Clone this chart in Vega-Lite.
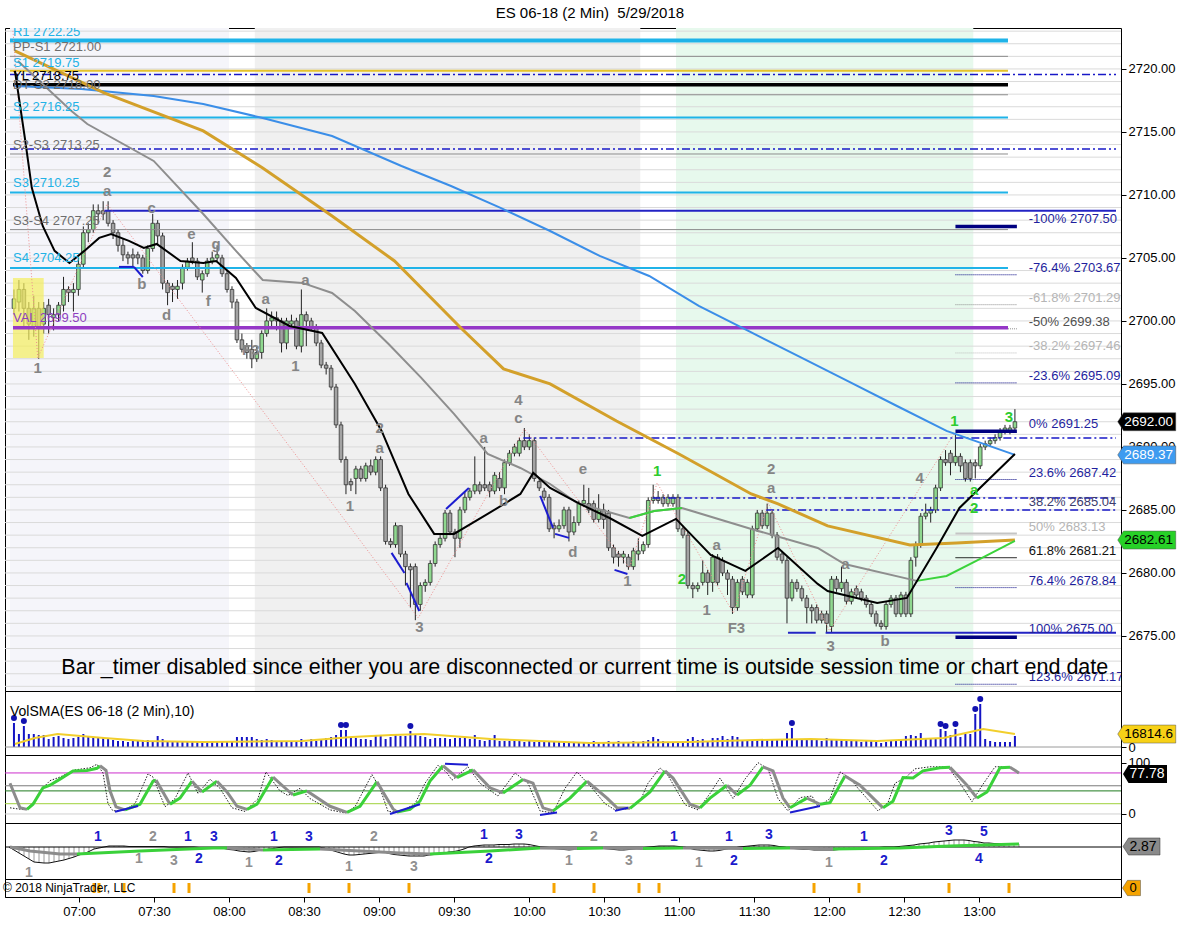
{
  "$schema": "https://vega.github.io/schema/vega-lite/v6.json",
  "background": "white",
  "padding": {"left": 2, "top": 5, "right": 16, "bottom": 5},
  "title": {"text": "ES 06-18 (2 Min) \u00a05/29/2018", "fontSize": 15, "fontWeight": "normal", "anchor": "middle", "frame": "bounds", "offset": 7, "color": "#000000"},
  "spacing": 0,
  "bounds": "flush",
  "datasets": {
    "bars": [
      {"m":392,"o":2701,"h":2702.5,"l":2700.5,"c":2701.75,"v":31200,"q":0},
      {"m":394,"o":2701.5,"h":2703.25,"l":2700.75,"c":2702.5,"v":16900,"q":-3},
      {"m":396,"o":2702.5,"h":2703,"l":2699.5,"c":2701,"v":27300,"q":-6},
      {"m":398,"o":2701,"h":2701.5,"l":2698.5,"c":2699.75,"v":16900,"q":-9},
      {"m":400,"o":2699.5,"h":2702,"l":2698.75,"c":2701,"v":16900,"q":-12},
      {"m":402,"o":2701,"h":2701.5,"l":2697,"c":2699.5,"v":15600,"q":-15},
      {"m":404,"o":2699.75,"h":2701.5,"l":2699,"c":2701,"v":15600,"q":-15.5},
      {"m":406,"o":2701.25,"h":2701.75,"l":2699,"c":2700.5,"v":10400,"q":-16},
      {"m":408,"o":2700.25,"h":2701,"l":2699.25,"c":2700.5,"v":13000,"q":-16},
      {"m":410,"o":2700.5,"h":2701.5,"l":2700,"c":2701.25,"v":14300,"q":-15},
      {"m":412,"o":2701.25,"h":2703.5,"l":2700.75,"c":2702.5,"v":11700,"q":-14},
      {"m":414,"o":2702.5,"h":2702.75,"l":2701.5,"c":2702.25,"v":10400,"q":-13},
      {"m":416,"o":2702.25,"h":2703,"l":2700.75,"c":2702.5,"v":11700,"q":-11.5},
      {"m":418,"o":2702.5,"h":2705,"l":2702,"c":2704.5,"v":13000,"q":-10},
      {"m":420,"o":2704.5,"h":2707.5,"l":2704.25,"c":2707,"v":16900,"q":-8},
      {"m":422,"o":2707,"h":2707.75,"l":2706.25,"c":2707.25,"v":14300,"q":-6.5},
      {"m":424,"o":2707.25,"h":2709.25,"l":2707,"c":2708.75,"v":13000,"q":-4.5},
      {"m":426,"o":2708.75,"h":2709.25,"l":2707.75,"c":2708.5,"v":13000,"q":-2},
      {"m":428,"o":2708.75,"h":2709.5,"l":2708,"c":2708.5,"v":11700,"q":-1},
      {"m":430,"o":2708.75,"h":2709.5,"l":2707.5,"c":2707.75,"v":11700,"q":0},
      {"m":432,"o":2707.75,"h":2708,"l":2706.5,"c":2707,"v":9100,"q":1},
      {"m":434,"o":2707,"h":2707.25,"l":2705.5,"c":2706,"v":7800,"q":1},
      {"m":436,"o":2706,"h":2706.5,"l":2704.75,"c":2705.25,"v":7800,"q":1},
      {"m":438,"o":2705.25,"h":2705.5,"l":2704.5,"c":2705,"v":6500,"q":1},
      {"m":440,"o":2705.25,"h":2705.75,"l":2704.25,"c":2705,"v":7800,"q":0.5},
      {"m":442,"o":2705.25,"h":2705.5,"l":2704.5,"c":2705,"v":7800,"q":0.5},
      {"m":444,"o":2705,"h":2705.25,"l":2703.75,"c":2704,"v":9100,"q":0.5},
      {"m":446,"o":2704,"h":2706,"l":2703.75,"c":2705.75,"v":9100,"q":0.5},
      {"m":448,"o":2705.75,"h":2708.5,"l":2705.5,"c":2707.75,"v":7800,"q":0.5},
      {"m":450,"o":2707.75,"h":2708,"l":2706,"c":2706.75,"v":14300,"q":0.5},
      {"m":452,"o":2706.75,"h":2707,"l":2702.5,"c":2703,"v":10400,"q":0.5},
      {"m":454,"o":2703,"h":2703.25,"l":2701.25,"c":2702.25,"v":7800,"q":0.5},
      {"m":456,"o":2702.75,"h":2703,"l":2701.5,"c":2702.5,"v":7800,"q":0},
      {"m":458,"o":2702.5,"h":2703.25,"l":2701.75,"c":2702.75,"v":7800,"q":0},
      {"m":460,"o":2703,"h":2704.5,"l":2702.5,"c":2704.25,"v":7800,"q":0},
      {"m":462,"o":2704.25,"h":2705,"l":2704,"c":2704.75,"v":7800,"q":0},
      {"m":464,"o":2705,"h":2706.25,"l":2704.5,"c":2704.75,"v":6500,"q":0},
      {"m":466,"o":2704.75,"h":2705,"l":2703.25,"c":2703.5,"v":6500,"q":0},
      {"m":468,"o":2703.25,"h":2704,"l":2702.25,"c":2703.75,"v":6500,"q":-0.5},
      {"m":470,"o":2703.75,"h":2705,"l":2703.5,"c":2704.75,"v":6500,"q":-0.5},
      {"m":472,"o":2704.75,"h":2705.5,"l":2704.5,"c":2705,"v":6500,"q":-0.5},
      {"m":474,"o":2705,"h":2706,"l":2704.75,"c":2705.25,"v":6500,"q":-0.5},
      {"m":476,"o":2705,"h":2705.25,"l":2703.5,"c":2703.75,"v":6500,"q":-1},
      {"m":478,"o":2703.75,"h":2704,"l":2702.25,"c":2702.5,"v":7800,"q":-1.5},
      {"m":480,"o":2702.5,"h":2702.75,"l":2701,"c":2701.5,"v":7800,"q":-2.5},
      {"m":482,"o":2701.5,"h":2701.75,"l":2698.25,"c":2698.5,"v":13000,"q":-3},
      {"m":484,"o":2698.5,"h":2699,"l":2697.5,"c":2697.75,"v":13000,"q":-4},
      {"m":486,"o":2698,"h":2698.25,"l":2697,"c":2697.5,"v":13000,"q":-4.5},
      {"m":488,"o":2697.75,"h":2698.5,"l":2696.25,"c":2697,"v":13000,"q":-5},
      {"m":490,"o":2697,"h":2698,"l":2696.75,"c":2697.5,"v":10400,"q":-4.5},
      {"m":492,"o":2697.5,"h":2699.25,"l":2697,"c":2699,"v":9100,"q":-3.5},
      {"m":494,"o":2699,"h":2701,"l":2698.75,"c":2700,"v":10400,"q":-3},
      {"m":496,"o":2700,"h":2700.75,"l":2699.5,"c":2700.25,"v":9100,"q":-2},
      {"m":498,"o":2700.25,"h":2700.75,"l":2699.25,"c":2700,"v":7800,"q":-1.5},
      {"m":500,"o":2700,"h":2700.25,"l":2697.5,"c":2698.25,"v":7800,"q":-0.5},
      {"m":502,"o":2698.25,"h":2700.25,"l":2697.75,"c":2700,"v":7800,"q":0},
      {"m":504,"o":2699.75,"h":2700.5,"l":2699.5,"c":2700,"v":7800,"q":0},
      {"m":506,"o":2700,"h":2700.25,"l":2697.75,"c":2698,"v":7800,"q":0},
      {"m":508,"o":2698,"h":2702.5,"l":2697.5,"c":2700.5,"v":10400,"q":0},
      {"m":510,"o":2700.5,"h":2700.75,"l":2698,"c":2700,"v":6500,"q":0},
      {"m":512,"o":2700,"h":2700.25,"l":2699.25,"c":2699.5,"v":10400,"q":0},
      {"m":514,"o":2699.5,"h":2699.75,"l":2698,"c":2698.25,"v":7800,"q":0},
      {"m":516,"o":2698.25,"h":2698.5,"l":2696.25,"c":2696.5,"v":10400,"q":0},
      {"m":518,"o":2696.5,"h":2696.75,"l":2695.75,"c":2696.25,"v":11700,"q":-1},
      {"m":520,"o":2696.25,"h":2696.5,"l":2694.5,"c":2694.75,"v":13000,"q":-2.5},
      {"m":522,"o":2694.75,"h":2695,"l":2691.5,"c":2691.75,"v":15600,"q":-4},
      {"m":524,"o":2691.75,"h":2692,"l":2688.75,"c":2689,"v":22100,"q":-5.5},
      {"m":526,"o":2689,"h":2689.25,"l":2686.25,"c":2687,"v":22100,"q":-7},
      {"m":528,"o":2687.25,"h":2687.5,"l":2686.5,"c":2687,"v":13000,"q":-8},
      {"m":530,"o":2687.5,"h":2688.5,"l":2686.25,"c":2688.25,"v":11700,"q":-8},
      {"m":532,"o":2688.25,"h":2688.5,"l":2687.25,"c":2687.5,"v":10400,"q":-7.5},
      {"m":534,"o":2687.5,"h":2688.75,"l":2687.25,"c":2688.5,"v":10400,"q":-7},
      {"m":536,"o":2688.5,"h":2689,"l":2687.75,"c":2688,"v":9100,"q":-6.5},
      {"m":538,"o":2688,"h":2689.25,"l":2687.75,"c":2689,"v":14300,"q":-6},
      {"m":540,"o":2689,"h":2689.25,"l":2686.5,"c":2686.75,"v":15600,"q":-5.5},
      {"m":542,"o":2686.75,"h":2687,"l":2682.25,"c":2682.5,"v":10400,"q":-5},
      {"m":544,"o":2682.5,"h":2682.75,"l":2682,"c":2682.25,"v":13000,"q":-6.5},
      {"m":546,"o":2682.25,"h":2684,"l":2682,"c":2683.75,"v":16900,"q":-7.5},
      {"m":548,"o":2683.75,"h":2683.75,"l":2681.25,"c":2681.5,"v":14300,"q":-8},
      {"m":550,"o":2681.5,"h":2681.75,"l":2679,"c":2680.5,"v":14300,"q":-8.5},
      {"m":552,"o":2680.5,"h":2680.75,"l":2677.25,"c":2680.25,"v":20800,"q":-9},
      {"m":554,"o":2680.5,"h":2680.75,"l":2676.25,"c":2677.5,"v":16900,"q":-9},
      {"m":556,"o":2677.5,"h":2679.25,"l":2677,"c":2679,"v":14300,"q":-9},
      {"m":558,"o":2679,"h":2679.5,"l":2678.5,"c":2679.25,"v":13000,"q":-9},
      {"m":560,"o":2679.25,"h":2681,"l":2679,"c":2680.75,"v":10400,"q":-8},
      {"m":562,"o":2680.75,"h":2682.5,"l":2680.5,"c":2682.25,"v":11700,"q":-7.5},
      {"m":564,"o":2682.25,"h":2683,"l":2682,"c":2682.75,"v":11700,"q":-6.5},
      {"m":566,"o":2682.75,"h":2685,"l":2682.5,"c":2684.75,"v":11700,"q":-6},
      {"m":568,"o":2684.75,"h":2685,"l":2683,"c":2683.25,"v":10400,"q":-5},
      {"m":570,"o":2683.25,"h":2683.5,"l":2681.25,"c":2682.75,"v":11700,"q":-4.5},
      {"m":572,"o":2682.75,"h":2685.25,"l":2682,"c":2685,"v":11700,"q":-3.5},
      {"m":574,"o":2685,"h":2686.5,"l":2684.75,"c":2686,"v":13000,"q":-2},
      {"m":576,"o":2686,"h":2686.75,"l":2685.75,"c":2686.5,"v":10400,"q":0},
      {"m":578,"o":2686.5,"h":2689.25,"l":2686.25,"c":2687,"v":15600,"q":1},
      {"m":580,"o":2687,"h":2687.25,"l":2686.25,"c":2686.5,"v":9100,"q":1.5},
      {"m":582,"o":2687,"h":2690,"l":2686.5,"c":2686.75,"v":7800,"q":2},
      {"m":584,"o":2687,"h":2687.25,"l":2686,"c":2686.5,"v":9100,"q":2},
      {"m":586,"o":2686.5,"h":2688,"l":2686.25,"c":2687.75,"v":15600,"q":2},
      {"m":588,"o":2687.5,"h":2688,"l":2686.5,"c":2686.75,"v":7800,"q":2.5},
      {"m":590,"o":2686.75,"h":2689,"l":2686.25,"c":2688.75,"v":7800,"q":2.5},
      {"m":592,"o":2688.75,"h":2689.75,"l":2688.5,"c":2689.5,"v":7800,"q":2.5},
      {"m":594,"o":2689.5,"h":2690.25,"l":2689.25,"c":2690,"v":7800,"q":3},
      {"m":596,"o":2689.5,"h":2690.75,"l":2689.25,"c":2690.5,"v":9100,"q":3},
      {"m":598,"o":2690.5,"h":2691.5,"l":2689.75,"c":2690,"v":6500,"q":3},
      {"m":600,"o":2690,"h":2691,"l":2689.75,"c":2690.5,"v":7800,"q":2.5},
      {"m":602,"o":2690.5,"h":2690.75,"l":2687.25,"c":2687.5,"v":6500,"q":1.5},
      {"m":604,"o":2687.25,"h":2687.5,"l":2686.5,"c":2686.75,"v":6500,"q":0.5},
      {"m":606,"o":2686.5,"h":2686.75,"l":2685.75,"c":2686,"v":7800,"q":0},
      {"m":608,"o":2686,"h":2686.25,"l":2683.25,"c":2683.5,"v":6500,"q":-0.5},
      {"m":610,"o":2683.75,"h":2684,"l":2682.75,"c":2683.5,"v":6500,"q":-1.5},
      {"m":612,"o":2683.5,"h":2684.25,"l":2683.25,"c":2683.75,"v":6500,"q":-2},
      {"m":614,"o":2683.75,"h":2685.25,"l":2683.5,"c":2685,"v":7800,"q":-2.5},
      {"m":616,"o":2685,"h":2685.25,"l":2682.5,"c":2683.25,"v":6500,"q":-3},
      {"m":618,"o":2683.25,"h":2684.5,"l":2683,"c":2684,"v":6500,"q":-2.5},
      {"m":620,"o":2684,"h":2685.75,"l":2683.75,"c":2685.5,"v":6500,"q":-2},
      {"m":622,"o":2685.5,"h":2687,"l":2685.25,"c":2685.75,"v":5200,"q":-1.5},
      {"m":624,"o":2685.5,"h":2686.75,"l":2684.75,"c":2685,"v":6500,"q":-1},
      {"m":626,"o":2685.5,"h":2685.75,"l":2684,"c":2684.25,"v":7800,"q":-1},
      {"m":628,"o":2684.25,"h":2686.25,"l":2684,"c":2685,"v":6500,"q":-1},
      {"m":630,"o":2685,"h":2685.5,"l":2683.5,"c":2684.25,"v":5200,"q":-1.5},
      {"m":632,"o":2684.75,"h":2685,"l":2681.75,"c":2682,"v":7800,"q":-2},
      {"m":634,"o":2682,"h":2682.25,"l":2680.75,"c":2681.25,"v":6500,"q":-2.5},
      {"m":636,"o":2681.5,"h":2681.75,"l":2680.5,"c":2681.25,"v":7800,"q":-3},
      {"m":638,"o":2681.25,"h":2681.75,"l":2680.75,"c":2681.5,"v":6500,"q":-3},
      {"m":640,"o":2681.25,"h":2681.5,"l":2680.25,"c":2680.5,"v":5200,"q":-2.5},
      {"m":642,"o":2680.5,"h":2682,"l":2680.25,"c":2681.75,"v":7800,"q":-2},
      {"m":644,"o":2681.5,"h":2682.75,"l":2681,"c":2681.75,"v":6500,"q":-1},
      {"m":646,"o":2681.75,"h":2682.5,"l":2681.5,"c":2682.25,"v":7800,"q":-0.5},
      {"m":648,"o":2682.25,"h":2686,"l":2682,"c":2685.75,"v":9100,"q":0},
      {"m":650,"o":2685.75,"h":2687,"l":2685.5,"c":2686,"v":13000,"q":0.5},
      {"m":652,"o":2686,"h":2686.5,"l":2685.5,"c":2685.75,"v":10400,"q":1},
      {"m":654,"o":2686,"h":2686.25,"l":2685.25,"c":2685.5,"v":7800,"q":1},
      {"m":656,"o":2685.5,"h":2686.25,"l":2685.25,"c":2686,"v":6500,"q":1},
      {"m":658,"o":2685.5,"h":2686.25,"l":2685.25,"c":2686,"v":6500,"q":1},
      {"m":660,"o":2686,"h":2686.25,"l":2683.25,"c":2683.5,"v":6500,"q":0.5},
      {"m":662,"o":2683.5,"h":2683.75,"l":2682.75,"c":2683,"v":5200,"q":0},
      {"m":664,"o":2683,"h":2683.25,"l":2678.75,"c":2679,"v":10400,"q":-1},
      {"m":666,"o":2679,"h":2679.25,"l":2678,"c":2678.75,"v":13000,"q":-2.5},
      {"m":668,"o":2678.75,"h":2679.25,"l":2678.5,"c":2679,"v":9100,"q":-3},
      {"m":670,"o":2679.25,"h":2681,"l":2679,"c":2680,"v":10400,"q":-3.5},
      {"m":672,"o":2680,"h":2680.25,"l":2678.25,"c":2679.25,"v":7800,"q":-4},
      {"m":674,"o":2679.25,"h":2681.5,"l":2678.5,"c":2681.25,"v":11700,"q":-4},
      {"m":676,"o":2681.25,"h":2681.5,"l":2679,"c":2679.25,"v":11700,"q":-3.5},
      {"m":678,"o":2681,"h":2681.25,"l":2679.75,"c":2680,"v":14300,"q":-2.5},
      {"m":680,"o":2680,"h":2680.25,"l":2678.25,"c":2679.5,"v":10400,"q":-1.5},
      {"m":682,"o":2679.5,"h":2679.75,"l":2676.75,"c":2677.25,"v":14300,"q":-1},
      {"m":684,"o":2677.25,"h":2679.5,"l":2677,"c":2679.25,"v":13000,"q":0},
      {"m":686,"o":2679.5,"h":2679.75,"l":2678.25,"c":2678.5,"v":9100,"q":0.5},
      {"m":688,"o":2678.25,"h":2679.5,"l":2678,"c":2679.25,"v":9100,"q":1},
      {"m":690,"o":2678.25,"h":2683.75,"l":2678,"c":2683.5,"v":7800,"q":1.5},
      {"m":692,"o":2683.5,"h":2685,"l":2683.25,"c":2684.75,"v":10400,"q":2},
      {"m":694,"o":2684.75,"h":2685,"l":2683.5,"c":2683.75,"v":9100,"q":2},
      {"m":696,"o":2683.75,"h":2685.5,"l":2683.5,"c":2684.75,"v":9100,"q":2},
      {"m":698,"o":2684.75,"h":2685,"l":2682.75,"c":2683,"v":9100,"q":1.5},
      {"m":700,"o":2683,"h":2683.25,"l":2681,"c":2681.25,"v":9100,"q":0.5},
      {"m":702,"o":2681.5,"h":2681.75,"l":2680.75,"c":2681,"v":10400,"q":0},
      {"m":704,"o":2681,"h":2681.25,"l":2676,"c":2678,"v":18200,"q":-1},
      {"m":706,"o":2678,"h":2679.5,"l":2677.75,"c":2679.25,"v":24700,"q":-1.5},
      {"m":708,"o":2679.25,"h":2679.5,"l":2678.5,"c":2678.75,"v":10400,"q":-2},
      {"m":710,"o":2678.75,"h":2679,"l":2677.75,"c":2678,"v":10400,"q":-2.5},
      {"m":712,"o":2678,"h":2678.25,"l":2676,"c":2677.25,"v":9100,"q":-2.5},
      {"m":714,"o":2677.25,"h":2677.5,"l":2676,"c":2677,"v":10400,"q":-3},
      {"m":716,"o":2677.25,"h":2677.5,"l":2676,"c":2676.25,"v":9100,"q":-3},
      {"m":718,"o":2676.75,"h":2677,"l":2676,"c":2676.25,"v":7800,"q":-3},
      {"m":720,"o":2676.75,"h":2677,"l":2675.25,"c":2676,"v":11700,"q":-3},
      {"m":722,"o":2675.75,"h":2679.75,"l":2675.25,"c":2679.5,"v":10400,"q":-3},
      {"m":724,"o":2679.5,"h":2679.75,"l":2678.5,"c":2678.75,"v":9100,"q":-2.5},
      {"m":726,"o":2678.75,"h":2680.5,"l":2678.5,"c":2679.25,"v":9100,"q":-2.5},
      {"m":728,"o":2679.25,"h":2679.5,"l":2677.5,"c":2677.75,"v":9100,"q":-2},
      {"m":730,"o":2677.75,"h":2678.75,"l":2677.5,"c":2678.5,"v":7800,"q":-1.5},
      {"m":732,"o":2678.75,"h":2679,"l":2678,"c":2678.25,"v":7800,"q":-1.5},
      {"m":734,"o":2678.5,"h":2678.75,"l":2677.75,"c":2678,"v":6500,"q":-1},
      {"m":736,"o":2678,"h":2678.25,"l":2677.25,"c":2677.5,"v":7800,"q":-1},
      {"m":738,"o":2677.5,"h":2677.75,"l":2676.5,"c":2676.75,"v":7800,"q":-0.5},
      {"m":740,"o":2676.75,"h":2677,"l":2675.75,"c":2676,"v":6500,"q":-0.5},
      {"m":742,"o":2676,"h":2676.25,"l":2675.5,"c":2675.75,"v":5200,"q":0},
      {"m":744,"o":2675.75,"h":2677.75,"l":2675.5,"c":2677.5,"v":6500,"q":0},
      {"m":746,"o":2677.5,"h":2678.25,"l":2677.25,"c":2678,"v":7800,"q":0},
      {"m":748,"o":2678,"h":2678.25,"l":2676.5,"c":2676.75,"v":7800,"q":0.5},
      {"m":750,"o":2676.75,"h":2678.5,"l":2676.5,"c":2678.25,"v":10400,"q":1},
      {"m":752,"o":2678.25,"h":2678.5,"l":2676.5,"c":2676.75,"v":14300,"q":1.5},
      {"m":754,"o":2676.75,"h":2681.25,"l":2676.5,"c":2681,"v":15600,"q":2},
      {"m":756,"o":2681.25,"h":2682.5,"l":2680.5,"c":2682.25,"v":14300,"q":3},
      {"m":758,"o":2682.25,"h":2684.75,"l":2682,"c":2684.5,"v":18200,"q":3.5},
      {"m":760,"o":2684.5,"h":2685.5,"l":2684.25,"c":2684.75,"v":10400,"q":4},
      {"m":762,"o":2684.75,"h":2685.25,"l":2684,"c":2685,"v":10400,"q":5},
      {"m":764,"o":2685,"h":2687,"l":2684.75,"c":2686.75,"v":11700,"q":5.5},
      {"m":766,"o":2686.75,"h":2689.25,"l":2686.5,"c":2689,"v":23400,"q":6},
      {"m":768,"o":2689,"h":2689.75,"l":2688.5,"c":2688.75,"v":20800,"q":6.5},
      {"m":770,"o":2689.5,"h":2689.75,"l":2687.75,"c":2688.75,"v":15600,"q":7},
      {"m":772,"o":2688.75,"h":2691,"l":2688.5,"c":2689.25,"v":23400,"q":7},
      {"m":774,"o":2689.25,"h":2689.5,"l":2688,"c":2688.5,"v":13000,"q":7},
      {"m":776,"o":2688.75,"h":2689,"l":2687.25,"c":2687.5,"v":16900,"q":6.5},
      {"m":778,"o":2688.75,"h":2689,"l":2687.25,"c":2687.5,"v":16900,"q":5.5},
      {"m":780,"o":2688.75,"h":2689,"l":2687.5,"c":2688.5,"v":42900,"q":5},
      {"m":782,"o":2688.5,"h":2690.25,"l":2688.25,"c":2690,"v":55900,"q":4},
      {"m":784,"o":2690,"h":2690.5,"l":2689.75,"c":2690.25,"v":10400,"q":4},
      {"m":786,"o":2690.25,"h":2690.75,"l":2690,"c":2690.5,"v":7800,"q":3.5},
      {"m":788,"o":2690.5,"h":2691,"l":2690.25,"c":2690.75,"v":6500,"q":3.5},
      {"m":790,"o":2690.75,"h":2691.5,"l":2690.5,"c":2691.25,"v":6500,"q":3},
      {"m":792,"o":2691.25,"h":2691.75,"l":2691,"c":2691.5,"v":6500,"q":3},
      {"m":794,"o":2691.25,"h":2691.75,"l":2691,"c":2691.5,"v":6500,"q":3},
      {"m":796,"o":2691.5,"h":2693,"l":2691.25,"c":2692,"v":14300,"q":3}
    ],
    "grid": [
      {"p":2671},{"p":2672},{"p":2673},{"p":2674},{"p":2675},{"p":2676},{"p":2677},{"p":2678},{"p":2679},{"p":2680},
      {"p":2681},{"p":2682},{"p":2683},{"p":2684},{"p":2685},{"p":2686},{"p":2687},{"p":2688},{"p":2689},{"p":2690},
      {"p":2691},{"p":2692},{"p":2693},{"p":2694},{"p":2695},{"p":2696},{"p":2697},{"p":2698},{"p":2699},{"p":2700},
      {"p":2701},{"p":2702},{"p":2703},{"p":2704},{"p":2705},{"p":2706},{"p":2707},{"p":2708},{"p":2709},{"p":2710},
      {"p":2711},{"p":2712},{"p":2713},{"p":2714},{"p":2715},{"p":2716},{"p":2717},{"p":2718},{"p":2719},{"p":2720},
      {"p":2721},{"p":2722},{"p":2723}
    ],
    "bands": [
      {"m1":390.4,"m2":478.8,"k":"a"},
      {"m1":489.2,"m2":644.8,"k":"b"},
      {"m1":659.2,"m2":779.2,"k":"c"}
    ],
    "box": [{"m1":391.6,"m2":404,"p1":2697.06,"p2":2703.41}],
    "levels": [
      {"p":2722.25,"m1":390.4,"m2":793.2,"k":"R"},
      {"p":2721,"m1":390.4,"m2":793.2,"k":"G"},
      {"p":2719.85,"m1":390.4,"m2":793.2,"k":"Y"},
      {"p":2719.55,"m1":390.4,"m2":836.8,"k":"D"},
      {"p":2718.75,"m1":391.6,"m2":793.2,"k":"K"},
      {"p":2717.95,"m1":390.4,"m2":793.2,"k":"G"},
      {"p":2716.15,"m1":390.4,"m2":793.2,"k":"S"},
      {"p":2713.65,"m1":390.4,"m2":836.8,"k":"D"},
      {"p":2713.25,"m1":390.4,"m2":793.2,"k":"G"},
      {"p":2710.2,"m1":390.4,"m2":793.2,"k":"S"},
      {"p":2708.75,"m1":428.4,"m2":836.8,"k":"B"},
      {"p":2707.25,"m1":390.4,"m2":793.2,"k":"G"},
      {"p":2707.5,"m1":772,"m2":796.8,"k":"N"},
      {"p":2704.2,"m1":390.4,"m2":793.2,"k":"S"},
      {"p":2703.665,"m1":772,"m2":796.8,"k":"ND"},
      {"p":2701.29,"m1":772,"m2":796.8,"k":"GD"},
      {"p":2699.45,"m1":391.6,"m2":793.2,"k":"P"},
      {"p":2699.375,"m1":793.2,"m2":796.8,"k":"GD"},
      {"p":2697.46,"m1":772,"m2":796.8,"k":"LD"},
      {"p":2695.085,"m1":772,"m2":796.8,"k":"ND"},
      {"p":2691.25,"m1":772,"m2":796.8,"k":"N"},
      {"p":2690.7,"m1":597.6,"m2":836.8,"k":"D"},
      {"p":2687.415,"m1":772,"m2":796.8,"k":"ND"},
      {"p":2685.95,"m1":649.6,"m2":836.8,"k":"D"},
      {"p":2685,"m1":695.6,"m2":836.8,"k":"D"},
      {"p":2683.125,"m1":772,"m2":796.8,"k":"L"},
      {"p":2681.21,"m1":772,"m2":796.8,"k":"T"},
      {"p":2678.835,"m1":772,"m2":796.8,"k":"ND"},
      {"p":2675.25,"m1":719.6,"m2":836.8,"k":"B"},
      {"p":2675.25,"m1":704.4,"m2":715.6,"k":"B"},
      {"p":2674.9,"m1":772,"m2":796.8,"k":"N"},
      {"p":2671.165,"m1":772,"m2":796.8,"k":"ND"}
    ],
    "plab": [
      {"m":391.6,"p":2722.25,"t":"R1 2722.25","k":"c"},
      {"m":391.6,"p":2721,"t":"PP-S1 2721.00","k":"g"},
      {"m":391.6,"p":2719.75,"t":"S1 2719.75","k":"c"},
      {"m":391.6,"p":2718.75,"t":"YL 2718.75","k":"k"},
      {"m":391.6,"p":2718,"t":"DT-S2 2718.00","k":"g"},
      {"m":391.6,"p":2716.25,"t":"S2 2716.25","k":"c"},
      {"m":391.6,"p":2713.25,"t":"S2-S3 2713.25","k":"g"},
      {"m":391.6,"p":2710.25,"t":"S3 2710.25","k":"c"},
      {"m":391.6,"p":2707.25,"t":"S3-S4 2707.25","k":"g"},
      {"m":391.6,"p":2704.25,"t":"S4 2704.25","k":"c"},
      {"m":391.6,"p":2699.5,"t":"VAL 2699.50","k":"p"}
    ],
    "fib": [
      {"m":801.6,"p":2707.5,"t":"-100%  2707.50","k":"n"},
      {"m":801.6,"p":2703.665,"t":"-76.4%  2703.67","k":"n"},
      {"m":801.6,"p":2701.29,"t":"-61.8%  2701.29","k":"l"},
      {"m":801.6,"p":2699.375,"t":"-50%  2699.38","k":"g"},
      {"m":801.6,"p":2697.46,"t":"-38.2%  2697.46","k":"l"},
      {"m":801.6,"p":2695.085,"t":"-23.6%  2695.09","k":"n"},
      {"m":801.6,"p":2691.25,"t":"0%  2691.25","k":"n"},
      {"m":801.6,"p":2687.415,"t":"23.6%  2687.42","k":"n"},
      {"m":801.6,"p":2685.04,"t":"38.2%  2685.04","k":"s"},
      {"m":801.6,"p":2683.125,"t":"50%  2683.13","k":"l"},
      {"m":801.6,"p":2681.21,"t":"61.8%  2681.21","k":"k"},
      {"m":801.6,"p":2678.835,"t":"76.4%  2678.84","k":"n"},
      {"m":801.6,"p":2675,"t":"100%  2675.00","k":"n"},
      {"m":801.6,"p":2671.165,"t":"123.6%  2671.17","k":"n"}
    ],
    "ma": [
      {"m":392.4,"p":2718.65,"s":"blu"},{"m":419.2,"p":2718.41,"s":"blu"},{"m":448.4,"p":2717.86,"s":"blu"},{"m":468.4,"p":2717.22,"s":"blu"},
      {"m":492.4,"p":2716.11,"s":"blu"},{"m":520.4,"p":2714.68,"s":"blu"},{"m":548.4,"p":2712.3,"s":"blu"},{"m":568.4,"p":2710.71,"s":"blu"},
      {"m":588.4,"p":2708.97,"s":"blu"},{"m":608.4,"p":2707.14,"s":"blu"},{"m":628.4,"p":2705.16,"s":"blu"},{"m":648.4,"p":2703.57,"s":"blu"},
      {"m":668.4,"p":2701.19,"s":"blu"},{"m":688.4,"p":2699.21,"s":"blu"},{"m":708.4,"p":2697.22,"s":"blu"},{"m":728.4,"p":2695.24,"s":"blu"},
      {"m":748.4,"p":2693.25,"s":"blu"},{"m":768.4,"p":2691.27,"s":"blu"},{"m":796,"p":2689.37,"s":"blu"},
      {"m":392.4,"p":2721.43,"s":"gld"},{"m":428.4,"p":2718.1,"s":"gld"},{"m":468.4,"p":2715.08,"s":"gld"},{"m":492.4,"p":2712.14,"s":"gld"},
      {"m":520.4,"p":2708.33,"s":"gld"},{"m":545.6,"p":2704.76,"s":"gld"},{"m":572.4,"p":2699.44,"s":"gld"},{"m":589.6,"p":2696.19,"s":"gld"},
      {"m":608.4,"p":2695,"s":"gld"},{"m":635.2,"p":2692.06,"s":"gld"},{"m":660.4,"p":2689.44,"s":"gld"},{"m":689.6,"p":2686.27,"s":"gld"},
      {"m":700.4,"p":2685.48,"s":"gld"},{"m":720.4,"p":2683.73,"s":"gld"},{"m":753.6,"p":2682.22,"s":"gld"},{"m":772.4,"p":2682.38,"s":"gld"},
      {"m":796,"p":2682.61,"s":"gld"},
      {"m":393.6,"p":2720.63,"s":"gry"},{"m":415.2,"p":2716.67,"s":"gry"},{"m":421.6,"p":2715.63,"s":"gry"},{"m":448.4,"p":2712.7,"s":"gry"},
      {"m":468.4,"p":2708.49,"s":"gry"},{"m":481.6,"p":2705.56,"s":"gry"},{"m":492.4,"p":2703.25,"s":"gry"},{"m":508.4,"p":2703.02,"s":"gry"},
      {"m":520.4,"p":2702.22,"s":"gry"},{"m":529.6,"p":2700.79,"s":"gry"},{"m":543.2,"p":2698.17,"s":"gry"},{"m":556.4,"p":2695.48,"s":"gry"},
      {"m":569.6,"p":2692.62,"s":"gry"},{"m":583.2,"p":2689.44,"s":"gry"},{"m":596.4,"p":2688.33,"s":"gry"},{"m":608.4,"p":2687.06,"s":"gry"},
      {"m":619.2,"p":2685.56,"s":"gry"},{"m":640.4,"p":2684.36,"s":"gry"},{"m":650.4,"p":2684.92,"s":"gry"},{"m":661.6,"p":2685.16,"s":"gry"},
      {"m":689.6,"p":2683.49,"s":"gry"},{"m":716.4,"p":2681.98,"s":"gry"},{"m":727.2,"p":2680.71,"s":"gry"},{"m":756.4,"p":2679.37,"s":"gry"},
      {"m":756.4,"p":2679.37,"s":"grn"},{"m":768.4,"p":2679.76,"s":"grn"},{"m":780.4,"p":2680.95,"s":"grn"},{"m":796,"p":2682.54,"s":"grn"},
      {"m":640.4,"p":2684.36,"s":"gr2"},{"m":650.4,"p":2684.92,"s":"gr2"},{"m":661.6,"p":2685.16,"s":"gr2"},
      {"m":392.4,"p":2719.84,"s":"blk"},{"m":396.4,"p":2714.52,"s":"blk"},{"m":399.2,"p":2710.56,"s":"blk"},{"m":403.6,"p":2707.54,"s":"blk"},
      {"m":408.4,"p":2705.56,"s":"blk"},{"m":414.4,"p":2704.6,"s":"blk"},{"m":420.4,"p":2705.56,"s":"blk"},{"m":426.4,"p":2706.59,"s":"blk"},
      {"m":431.2,"p":2706.9,"s":"blk"},{"m":438.4,"p":2706.35,"s":"blk"},{"m":444.4,"p":2705.79,"s":"blk"},{"m":449.6,"p":2706.11,"s":"blk"},
      {"m":459.2,"p":2704.76,"s":"blk"},{"m":468.4,"p":2704.6,"s":"blk"},{"m":473.6,"p":2704.76,"s":"blk"},{"m":481.6,"p":2703.41,"s":"blk"},
      {"m":489.6,"p":2701.03,"s":"blk"},{"m":503.2,"p":2699.6,"s":"blk"},{"m":516.4,"p":2699.05,"s":"blk"},{"m":529.6,"p":2695,"s":"blk"},
      {"m":540.4,"p":2691.27,"s":"blk"},{"m":551.2,"p":2686.27,"s":"blk"},{"m":561.6,"p":2683.1,"s":"blk"},{"m":569.6,"p":2683.1,"s":"blk"},
      {"m":583.2,"p":2684.68,"s":"blk"},{"m":596.4,"p":2686.27,"s":"blk"},{"m":601.6,"p":2687.94,"s":"blk"},{"m":608.4,"p":2686.75,"s":"blk"},
      {"m":620.4,"p":2685.48,"s":"blk"},{"m":632.4,"p":2684.36,"s":"blk"},{"m":645.6,"p":2682.94,"s":"blk"},{"m":659.2,"p":2684.29,"s":"blk"},
      {"m":673.2,"p":2681.43,"s":"blk"},{"m":687.2,"p":2680.16,"s":"blk"},{"m":700.4,"p":2681.98,"s":"blk"},{"m":716.4,"p":2679.13,"s":"blk"},
      {"m":720.4,"p":2678.57,"s":"blk"},{"m":740.4,"p":2677.62,"s":"blk"},{"m":752.4,"p":2678.02,"s":"blk"},{"m":764.4,"p":2681.98,"s":"blk"},
      {"m":773.6,"p":2685.16,"s":"blk"},{"m":796,"p":2689.44,"s":"blk"}
    ],
    "zig": [
      {"m":391.6,"p":2723.02},{"m":401.6,"p":2697.06},{"m":429.6,"p":2709.29},{"m":555.2,"p":2676.43},
      {"m":598,"p":2691.43},{"m":640.4,"p":2680.4},{"m":651.6,"p":2687.14},{"m":682.4,"p":2676.8},
      {"m":696.4,"p":2685.56},{"m":721.2,"p":2675.4},{"m":771.6,"p":2691.1}
    ],
    "segs": [
      {"m1":434.4,"p1":2704.29,"m2":440.4,"p2":2704.29},
      {"m1":440.4,"p1":2704.29,"m2":444,"p2":2703.49},
      {"m1":544.4,"p1":2681.59,"m2":549.6,"p2":2680},
      {"m1":550.4,"p1":2679.21,"m2":555.6,"p2":2676.98},
      {"m1":566.4,"p1":2685.08,"m2":575.6,"p2":2686.75},
      {"m1":604.4,"p1":2686.11,"m2":609.6,"p2":2683.57},
      {"m1":610.4,"p1":2683.1,"m2":616,"p2":2682.78},
      {"m1":634.4,"p1":2680.24,"m2":639.6,"p2":2679.92}
    ],
    "lab": [
      {"m":401.6,"p":2696.27,"t":"1","g":"gy"},{"m":429.6,"p":2711.82,"t":"2","g":"gy"},{"m":429.6,"p":2710.32,"t":"a","g":"gy"},
      {"m":443.6,"p":2702.94,"t":"b","g":"gy"},{"m":447.6,"p":2708.97,"t":"c","g":"gy"},{"m":453.6,"p":2700.48,"t":"d","g":"gy"},
      {"m":463.6,"p":2706.9,"t":"e","g":"gy"},{"m":470.4,"p":2701.59,"t":"f","g":"gy"},{"m":473.6,"p":2706.11,"t":"g","g":"gy"},
      {"m":487.6,"p":2697.7,"t":"F3","g":"gy"},{"m":493.6,"p":2701.75,"t":"a","g":"gy"},{"m":505.6,"p":2696.43,"t":"1","g":"gy"},
      {"m":509.6,"p":2703.25,"t":"a","g":"gy"},{"m":539.6,"p":2691.5,"t":"2","g":"gy"},{"m":539.6,"p":2689.92,"t":"a","g":"gy"},
      {"m":527.6,"p":2685.32,"t":"1","g":"gy"},{"m":555.6,"p":2675.71,"t":"3","g":"gy"},{"m":581.6,"p":2690.71,"t":"a","g":"gy"},
      {"m":589.6,"p":2685.71,"t":"b","g":"gy"},{"m":595.6,"p":2693.73,"t":"4","g":"gy"},{"m":595.6,"p":2692.3,"t":"c","g":"gy"},
      {"m":621.6,"p":2688.25,"t":"e","g":"gy"},{"m":617.6,"p":2681.67,"t":"d","g":"gy"},{"m":639.6,"p":2679.37,"t":"1","g":"gy"},
      {"m":675.6,"p":2682.22,"t":"a","g":"gy"},{"m":671.6,"p":2677.06,"t":"1","g":"gy"},{"m":683.6,"p":2675.63,"t":"F3","g":"gy"},
      {"m":697.6,"p":2688.25,"t":"2","g":"gy"},{"m":697.6,"p":2686.75,"t":"a","g":"gy"},{"m":727.6,"p":2680.71,"t":"a","g":"gy"},
      {"m":721.6,"p":2674.2,"t":"3","g":"gy"},{"m":743.6,"p":2674.6,"t":"b","g":"gy"},{"m":757.6,"p":2687.54,"t":"4","g":"gy"},
      {"m":651.6,"p":2688.1,"t":"1","g":"gn"},{"m":661.6,"p":2679.52,"t":"2","g":"gn"},{"m":771.6,"p":2692.06,"t":"1","g":"gn"},
      {"m":793.6,"p":2692.38,"t":"3","g":"gn"},{"m":779.6,"p":2686.59,"t":"a","g":"gn"},{"m":779.6,"p":2685.16,"t":"2","g":"gn"}
    ],
    "note": [{"m":622.4,"p":2672.46,"t":"Bar _timer disabled since either you are disconnected or current time is outside session time or chart end date"}],
    "tags": [
      {"p":2692,"t":"2692.00","k":"a"},
      {"p":2689.37,"t":"2689.37","k":"b"},
      {"p":2682.61,"t":"2682.61","k":"c"}
    ],
    "vsma": [
      {"m":392.4,"v":3900},{"m":400.4,"v":11700},{"m":409.6,"v":16900},{"m":428.4,"v":11700},{"m":444.4,"v":7800},
      {"m":468.4,"v":6500},{"m":508.4,"v":7800},{"m":528.4,"v":13000},{"m":544.4,"v":15600},{"m":557.6,"v":16900},
      {"m":584.4,"v":10400},{"m":624.4,"v":5200},{"m":664.4,"v":6500},{"m":691.2,"v":9100},{"m":713.6,"v":10400},
      {"m":740.4,"v":7800},{"m":767.2,"v":11700},{"m":783.2,"v":23400},{"m":796,"v":16814.6}
    ],
    "vlab": [{"m":390.4,"v":45500,"t":"VolSMA(ES 06-18 (2 Min),10)"}],
    "vtag": [{"v":16814.6,"t":"16814.6"}],
    "stlev": [
      {"lv":80,"k":"mg"},{"lv":55,"k":"gy"},{"lv":45,"k":"dg"},{"lv":20,"k":"lg"},{"lv":0,"k":"lt"}
    ],
    "stoch": [
      {"m":392.4,"d":60,"g":1,"t":"d"},{"m":396.4,"d":12,"g":1,"t":"d"},{"m":399.2,"d":9,"g":1,"t":"d"},
      {"m":399.2,"d":9,"g":2,"t":"u"},{"m":401.6,"d":19,"g":2,"t":"u"},{"m":405.6,"d":51,"g":2,"t":"u"},{"m":408.4,"d":56,"g":2,"t":"u"},{"m":412.4,"d":68,"g":2,"t":"u"},{"m":417.6,"d":84,"g":2,"t":"u"},{"m":423.2,"d":85,"g":2,"t":"u"},{"m":427.2,"d":89,"g":2,"t":"u"},{"m":428.4,"d":94,"g":2,"t":"u"},
      {"m":428.4,"d":94,"g":3,"t":"d"},{"m":430.8,"d":85,"g":3,"t":"d"},{"m":432.4,"d":45,"g":3,"t":"d"},{"m":434.8,"d":14,"g":3,"t":"d"},{"m":438.4,"d":8,"g":3,"t":"d"},
      {"m":438.4,"d":8,"g":4,"t":"u"},{"m":444.4,"d":19,"g":4,"t":"u"},{"m":449.6,"d":64,"g":4,"t":"u"},{"m":450.8,"d":66,"g":4,"t":"u"},
      {"m":450.8,"d":66,"g":5,"t":"d"},{"m":456.4,"d":19,"g":5,"t":"d"},
      {"m":456.4,"d":19,"g":6,"t":"u"},{"m":460.4,"d":31,"g":6,"t":"u"},{"m":465.2,"d":64,"g":6,"t":"u"},
      {"m":465.2,"d":64,"g":7,"t":"d"},{"m":469.2,"d":43,"g":7,"t":"d"},
      {"m":469.2,"d":43,"g":8,"t":"u"},{"m":475.2,"d":64,"g":8,"t":"u"},
      {"m":475.2,"d":64,"g":9,"t":"d"},{"m":479.2,"d":43,"g":9,"t":"d"},{"m":483.2,"d":15,"g":9,"t":"d"},{"m":487.2,"d":9,"g":9,"t":"d"},
      {"m":487.2,"d":9,"g":10,"t":"u"},{"m":491.2,"d":19,"g":10,"t":"u"},{"m":497.6,"d":72,"g":10,"t":"u"},
      {"m":497.6,"d":72,"g":11,"t":"d"},{"m":501.2,"d":56,"g":11,"t":"d"},{"m":505.6,"d":37,"g":11,"t":"d"},
      {"m":505.6,"d":37,"g":12,"t":"u"},{"m":511.2,"d":45,"g":12,"t":"u"},
      {"m":511.2,"d":45,"g":13,"t":"d"},{"m":520.4,"d":15,"g":13,"t":"d"},{"m":527.2,"d":3,"g":13,"t":"d"},
      {"m":527.2,"d":3,"g":14,"t":"u"},{"m":532.4,"d":15,"g":14,"t":"u"},{"m":539.2,"d":63,"g":14,"t":"u"},
      {"m":539.2,"d":63,"g":15,"t":"d"},{"m":541.6,"d":43,"g":15,"t":"d"},{"m":545.6,"d":10,"g":15,"t":"d"},{"m":547.2,"d":4,"g":15,"t":"d"},
      {"m":547.2,"d":4,"g":16,"t":"u"},{"m":552.4,"d":9,"g":16,"t":"u"},{"m":556.4,"d":25,"g":16,"t":"u"},{"m":560.4,"d":64,"g":16,"t":"u"},{"m":565.6,"d":94,"g":16,"t":"u"},
      {"m":565.6,"d":94,"g":17,"t":"d"},{"m":571.2,"d":71,"g":17,"t":"d"},
      {"m":571.2,"d":71,"g":18,"t":"u"},{"m":577.6,"d":86,"g":18,"t":"u"},
      {"m":577.6,"d":86,"g":19,"t":"d"},{"m":584.4,"d":51,"g":19,"t":"d"},{"m":589.6,"d":41,"g":19,"t":"d"},
      {"m":589.6,"d":41,"g":20,"t":"u"},{"m":597.6,"d":67,"g":20,"t":"u"},
      {"m":597.6,"d":67,"g":21,"t":"d"},{"m":601.6,"d":60,"g":21,"t":"d"},{"m":605.6,"d":12,"g":21,"t":"d"},{"m":609.6,"d":6,"g":21,"t":"d"},
      {"m":609.6,"d":6,"g":22,"t":"u"},{"m":616.4,"d":31,"g":22,"t":"u"},{"m":623.2,"d":64,"g":22,"t":"u"},
      {"m":623.2,"d":64,"g":23,"t":"d"},{"m":631.2,"d":31,"g":23,"t":"d"},{"m":635.2,"d":12,"g":23,"t":"d"},{"m":640.4,"d":11,"g":23,"t":"d"},
      {"m":640.4,"d":11,"g":24,"t":"u"},{"m":648.4,"d":43,"g":24,"t":"u"},{"m":654.4,"d":84,"g":24,"t":"u"},
      {"m":654.4,"d":84,"g":25,"t":"d"},{"m":657.6,"d":70,"g":25,"t":"d"},{"m":664.4,"d":19,"g":25,"t":"d"},{"m":668.4,"d":12,"g":25,"t":"d"},
      {"m":668.4,"d":12,"g":26,"t":"u"},{"m":672.4,"d":31,"g":26,"t":"u"},{"m":679.2,"d":56,"g":26,"t":"u"},
      {"m":679.2,"d":56,"g":27,"t":"d"},{"m":683.2,"d":37,"g":27,"t":"d"},
      {"m":683.2,"d":37,"g":28,"t":"u"},{"m":688.4,"d":56,"g":28,"t":"u"},{"m":693.6,"d":92,"g":28,"t":"u"},
      {"m":693.6,"d":92,"g":29,"t":"d"},{"m":697.6,"d":84,"g":29,"t":"d"},{"m":701.6,"d":31,"g":29,"t":"d"},{"m":704.4,"d":12,"g":29,"t":"d"},
      {"m":704.4,"d":12,"g":30,"t":"u"},{"m":711.2,"d":31,"g":30,"t":"u"},
      {"m":711.2,"d":31,"g":31,"t":"d"},{"m":716.4,"d":19,"g":31,"t":"d"},
      {"m":716.4,"d":19,"g":32,"t":"u"},{"m":720.4,"d":22,"g":32,"t":"u"},{"m":726.4,"d":74,"g":32,"t":"u"},
      {"m":726.4,"d":74,"g":33,"t":"d"},{"m":732.4,"d":56,"g":33,"t":"d"},{"m":741.6,"d":12,"g":33,"t":"d"},
      {"m":741.6,"d":12,"g":34,"t":"u"},{"m":745.6,"d":25,"g":34,"t":"u"},{"m":749.6,"d":71,"g":34,"t":"u"},{"m":753.6,"d":70,"g":34,"t":"u"},{"m":757.6,"d":84,"g":34,"t":"u"},{"m":764.4,"d":90,"g":34,"t":"u"},{"m":768.4,"d":91,"g":34,"t":"u"},
      {"m":768.4,"d":91,"g":35,"t":"d"},{"m":775.2,"d":56,"g":35,"t":"d"},{"m":779.2,"d":31,"g":35,"t":"d"},
      {"m":779.2,"d":31,"g":36,"t":"u"},{"m":783.2,"d":43,"g":36,"t":"u"},{"m":788.4,"d":90,"g":36,"t":"u"},{"m":792.4,"d":91,"g":36,"t":"u"},
      {"m":792.4,"d":91,"g":37,"t":"d"},{"m":796,"d":80,"g":37,"t":"d"}
    ],
    "stk": [
      {"m":392.4,"k":12},{"m":398.4,"k":8},{"m":402.4,"k":25},{"m":404.4,"k":45},{"m":408.4,"k":65},{"m":412.4,"k":72},{"m":418.4,"k":86},{"m":424.4,"k":90},
      {"m":427.2,"k":97},{"m":429.6,"k":80},{"m":431.6,"k":20},{"m":433.6,"k":6},{"m":438.4,"k":8},{"m":442.4,"k":20},{"m":447.6,"k":78},{"m":449.6,"k":72},
      {"m":454.4,"k":14},{"m":458.4,"k":30},{"m":463.6,"k":80},{"m":467.6,"k":40},{"m":472.4,"k":68},{"m":476.4,"k":50},{"m":481.2,"k":12},{"m":486.4,"k":5},
      {"m":491.6,"k":30},{"m":494.8,"k":82},{"m":500.4,"k":45},{"m":503.6,"k":36},{"m":508.4,"k":50},{"m":512.4,"k":30},{"m":520.4,"k":8},{"m":526.4,"k":2},
      {"m":530.4,"k":14},{"m":537.2,"k":77},{"m":540.4,"k":50},{"m":543.6,"k":5},{"m":548.4,"k":3},{"m":554.4,"k":20},{"m":558.4,"k":60},{"m":563.6,"k":95},
      {"m":567.2,"k":80},{"m":569.2,"k":66},{"m":575.6,"k":92},{"m":580.4,"k":60},{"m":587.6,"k":35},{"m":594.4,"k":80},{"m":599.6,"k":60},{"m":604.4,"k":6},
      {"m":609.6,"k":2},{"m":614.4,"k":50},{"m":619.2,"k":82},{"m":624.4,"k":55},{"m":630.4,"k":20},{"m":634.4,"k":8},{"m":639.6,"k":10},{"m":644.4,"k":25},
      {"m":647.6,"k":60},{"m":652.4,"k":90},{"m":655.6,"k":75},{"m":662.4,"k":18},{"m":667.6,"k":8},{"m":672.4,"k":40},{"m":676.4,"k":70},{"m":681.6,"k":30},
      {"m":686.4,"k":68},{"m":691.6,"k":100},{"m":695.6,"k":88},{"m":699.6,"k":30},{"m":703.6,"k":6},{"m":708.4,"k":32},{"m":713.2,"k":35},{"m":715.6,"k":14},
      {"m":720.4,"k":30},{"m":724.4,"k":82},{"m":728.4,"k":70},{"m":731.6,"k":50},{"m":739.6,"k":6},{"m":743.6,"k":22},{"m":746.4,"k":60},{"m":750.4,"k":70},
      {"m":754.4,"k":88},{"m":760.4,"k":92},{"m":767.6,"k":92},{"m":772.4,"k":60},{"m":777.2,"k":24},{"m":781.2,"k":55},{"m":786.4,"k":92},{"m":792.4,"k":92},
      {"m":796,"k":78}
    ],
    "stseg": [
      {"m1":434.4,"a":4.5,"m2":443.6,"b":15.6},
      {"m1":544.4,"a":0,"m2":556.4,"b":19},
      {"m1":566.4,"a":98,"m2":575.6,"b":96},
      {"m1":604.4,"a":-2,"m2":611.2,"b":3},
      {"m1":634.4,"a":6,"m2":639.6,"b":12},
      {"m1":704.4,"a":3,"m2":716.4,"b":15.6}
    ],
    "sttag": [{"lv":77.78,"t":"77.78"}],
    "sig": [
      {"m":392.4,"s":0,"g":1,"t":"d"},{"m":400.4,"s":-4,"g":1,"t":"d"},{"m":412.4,"s":-7,"g":1,"t":"d"},{"m":419.2,"s":-7,"g":1,"t":"d"},
      {"m":419.2,"s":-7,"g":2,"t":"u"},{"m":444.4,"s":-4,"g":2,"t":"u"},{"m":473.6,"s":-1,"g":2,"t":"u"},{"m":479.2,"s":-1,"g":2,"t":"u"},
      {"m":479.2,"s":-1,"g":3,"t":"d"},{"m":493.6,"s":-3,"g":3,"t":"d"},
      {"m":493.6,"s":-3,"g":4,"t":"u"},{"m":516.4,"s":-2,"g":4,"t":"u"},
      {"m":516.4,"s":-2,"g":5,"t":"d"},{"m":532.4,"s":-4,"g":5,"t":"d"},{"m":548.4,"s":-6,"g":5,"t":"d"},{"m":560.4,"s":-7,"g":5,"t":"d"},
      {"m":560.4,"s":-7,"g":6,"t":"u"},{"m":584.4,"s":-4,"g":6,"t":"u"},{"m":604.4,"s":-1,"g":6,"t":"u"},
      {"m":604.4,"s":-1,"g":7,"t":"d"},{"m":619.2,"s":-1.5,"g":7,"t":"d"},
      {"m":619.2,"s":-1.5,"g":8,"t":"u"},{"m":629.6,"s":-1,"g":8,"t":"u"},
      {"m":629.6,"s":-1,"g":9,"t":"d"},{"m":645.6,"s":-1.5,"g":9,"t":"d"},
      {"m":645.6,"s":-1.5,"g":10,"t":"u"},{"m":661.6,"s":-1,"g":10,"t":"u"},
      {"m":661.6,"s":-1,"g":11,"t":"d"},{"m":685.6,"s":-1.5,"g":11,"t":"d"},
      {"m":685.6,"s":-1.5,"g":12,"t":"u"},{"m":704.4,"s":-1,"g":12,"t":"u"},
      {"m":704.4,"s":-1,"g":13,"t":"d"},{"m":721.6,"s":-2,"g":13,"t":"d"},
      {"m":721.6,"s":-2,"g":14,"t":"u"},{"m":748.4,"s":-1,"g":14,"t":"u"},{"m":768.4,"s":1,"g":14,"t":"u"},{"m":796,"s":3,"g":14,"t":"u"}
    ],
    "obase": [{"q":0}],
    "olab": [
      {"m":427.6,"q":10,"t":"1","c":"b"},{"m":449.6,"q":10,"t":"2","c":"g"},{"m":463.6,"q":10,"t":"1","c":"b"},{"m":474,"q":10,"t":"3","c":"b"},
      {"m":498,"q":10,"t":"1","c":"b"},{"m":512,"q":10,"t":"3","c":"b"},{"m":538,"q":10,"t":"2","c":"g"},{"m":582,"q":12,"t":"1","c":"b"},
      {"m":596,"q":12,"t":"3","c":"b"},{"m":626,"q":10,"t":"2","c":"g"},{"m":658,"q":10,"t":"1","c":"b"},{"m":680,"q":10,"t":"1","c":"b"},
      {"m":696,"q":12,"t":"3","c":"b"},{"m":734,"q":10,"t":"1","c":"b"},{"m":768,"q":16,"t":"3","c":"b"},{"m":782,"q":15,"t":"5","c":"b"},
      {"m":400,"q":-26,"t":"1","c":"g"},{"m":444,"q":-12,"t":"1","c":"g"},{"m":458,"q":-14,"t":"3","c":"g"},{"m":468,"q":-12,"t":"2","c":"b"},
      {"m":488,"q":-16,"t":"1","c":"g"},{"m":500,"q":-14,"t":"2","c":"b"},{"m":528,"q":-20,"t":"1","c":"g"},{"m":554,"q":-20,"t":"3","c":"g"},
      {"m":584,"q":-12,"t":"2","c":"b"},{"m":616,"q":-14,"t":"1","c":"g"},{"m":640,"q":-14,"t":"3","c":"g"},{"m":668,"q":-16,"t":"1","c":"g"},
      {"m":682,"q":-14,"t":"2","c":"b"},{"m":720,"q":-16,"t":"1","c":"g"},{"m":742,"q":-14,"t":"2","c":"b"},{"m":780,"q":-12,"t":"4","c":"b"}
    ],
    "otag": [{"q":0.5,"t":"2.87"}],
    "marks": [
      {"m":426},{"m":428},{"m":438},{"m":458},{"m":464},{"m":512},{"m":528},{"m":552},
      {"m":610},{"m":626},{"m":644},{"m":652},{"m":714},{"m":732},{"m":768},{"m":792}
    ],
    "copy": [{"m":390.4,"t":"© 2018 NinjaTrader, LLC"}],
    "mtag": [{"t":"0"}]
  },
  "vconcat": [
    {
      "width": 1116,
      "height": 663,
      "resolve": {"scale": {"color": "independent", "strokeWidth": "independent", "strokeDash": "independent", "fill": "independent"}},
      "layer": [
        {
          "data": {"name": "bands"},
          "mark": {"type": "rect"},
          "encoding": {
            "x": {"field": "m1", "type": "quantitative", "scale": {"domain": [390.4, 836.8], "nice": false, "zero": false}, "axis": null},
            "x2": {"field": "m2"},
            "color": {"field": "k", "type": "nominal", "scale": {"domain": ["a", "b", "c"], "range": ["#f5f5fa", "#f0f0f0", "#e7f9ed"]}, "legend": null}
          }
        },
        {
          "data": {"name": "grid"},
          "mark": {"type": "rule", "color": "#dadada", "strokeWidth": 1},
          "encoding": {
            "y": {"field": "p", "type": "quantitative", "scale": {"domain": [2670.63, 2723.25], "nice": false, "zero": false}, "title": null,
              "axis": {"orient": "right", "values": [2675, 2680, 2685, 2690, 2695, 2700, 2705, 2710, 2715, 2720], "format": ".2f", "grid": false, "tickSize": 5, "tickColor": "#000000", "domain": false, "labelFontSize": 13, "labelColor": "#000000", "labelPadding": 2, "title": null}}
          }
        },
        {
          "data": {"name": "bars"},
          "mark": {"type": "rule", "color": "#222222", "strokeWidth": 1},
          "encoding": {
            "x": {"field": "m", "type": "quantitative", "scale": {"domain": [390.4, 836.8], "nice": false, "zero": false}, "axis": null},
            "y": {"field": "l", "type": "quantitative", "scale": {"domain": [2670.63, 2723.25], "nice": false, "zero": false}, "title": null},
            "y2": {"field": "h"}
          }
        },
        {
          "data": {"name": "bars"},
          "mark": {"type": "bar", "size": 3.6, "stroke": "#333333", "strokeWidth": 0.8},
          "encoding": {
            "x": {"field": "m", "type": "quantitative", "scale": {"domain": [390.4, 836.8], "nice": false, "zero": false}, "axis": null},
            "y": {"field": "o", "type": "quantitative", "scale": {"domain": [2670.63, 2723.25], "nice": false, "zero": false}, "title": null},
            "y2": {"field": "c"},
            "fill": {"condition": {"test": "datum.c >= datum.o", "value": "#8fd88f"}, "value": "#a3a3a3"}
          }
        },
        {
          "data": {"name": "box"},
          "mark": {"type": "rect", "color": "#f3ee5c", "opacity": 0.7},
          "encoding": {
            "x": {"field": "m1", "type": "quantitative", "scale": {"domain": [390.4, 836.8], "nice": false, "zero": false}, "axis": null},
            "x2": {"field": "m2"},
            "y": {"field": "p1", "type": "quantitative", "scale": {"domain": [2670.63, 2723.25], "nice": false, "zero": false}, "title": null},
            "y2": {"field": "p2"}
          }
        },
        {
          "data": {"name": "levels"},
          "mark": {"type": "rule"},
          "encoding": {
            "x": {"field": "m1", "type": "quantitative", "scale": {"domain": [390.4, 836.8], "nice": false, "zero": false}, "axis": null},
            "x2": {"field": "m2"},
            "y": {"field": "p", "type": "quantitative", "scale": {"domain": [2670.63, 2723.25], "nice": false, "zero": false}, "title": null},
            "color": {"field": "k", "type": "nominal", "legend": null,
              "scale": {"domain": ["R", "S", "G", "Y", "K", "P", "B", "D", "N", "ND", "GD", "LD", "L", "T"],
                "range": ["#1fb3e8", "#1fb3e8", "#8c8c8c", "#e6c229", "#000000", "#9537c7", "#2323c4", "#1818c8", "#000080", "#000080", "#8c8c8c", "#bdbdbd", "#c4c4c4", "#000000"]}},
            "strokeWidth": {"field": "k", "type": "nominal", "legend": null,
              "scale": {"type": "ordinal", "domain": ["R", "S", "G", "Y", "K", "P", "B", "D", "N", "ND", "GD", "LD", "L", "T"],
                "range": [4, 2, 1, 2, 3.5, 3.5, 2, 1.5, 3.5, 1, 1, 1, 2, 1]}},
            "strokeDash": {"field": "k", "type": "nominal", "legend": null,
              "scale": {"domain": ["R", "S", "G", "Y", "K", "P", "B", "D", "N", "ND", "GD", "LD", "L", "T"],
                "range": [[1, 0], [1, 0], [1, 0], [1, 0], [1, 0], [1, 0], [1, 0], [8, 3, 2, 3], [1, 0], [1, 1], [1, 1], [1, 1], [1, 0], [1, 0]]}}
          }
        },
        {
          "data": {"name": "zig"},
          "mark": {"type": "line", "color": "#ee8f8f", "strokeWidth": 1, "strokeDash": [1, 2]},
          "encoding": {
            "x": {"field": "m", "type": "quantitative", "scale": {"domain": [390.4, 836.8], "nice": false, "zero": false}, "axis": null},
            "y": {"field": "p", "type": "quantitative", "scale": {"domain": [2670.63, 2723.25], "nice": false, "zero": false}, "title": null}
          }
        },
        {
          "data": {"name": "segs"},
          "mark": {"type": "rule", "color": "#1c1cd0", "strokeWidth": 2},
          "encoding": {
            "x": {"field": "m1", "type": "quantitative", "scale": {"domain": [390.4, 836.8], "nice": false, "zero": false}, "axis": null},
            "x2": {"field": "m2"},
            "y": {"field": "p1", "type": "quantitative", "scale": {"domain": [2670.63, 2723.25], "nice": false, "zero": false}, "title": null},
            "y2": {"field": "p2"}
          }
        },
        {
          "data": {"name": "ma"},
          "mark": {"type": "line"},
          "encoding": {
            "x": {"field": "m", "type": "quantitative", "scale": {"domain": [390.4, 836.8], "nice": false, "zero": false}, "axis": null},
            "y": {"field": "p", "type": "quantitative", "scale": {"domain": [2670.63, 2723.25], "nice": false, "zero": false}, "title": null},
            "color": {"field": "s", "type": "nominal", "legend": null,
              "scale": {"domain": ["gld", "blu", "gry", "grn", "gr2", "blk"], "range": ["#d3a02a", "#3b8ee8", "#8e8e8e", "#3bd33b", "#3bd33b", "#000000"]}},
            "strokeWidth": {"field": "s", "type": "nominal", "legend": null,
              "scale": {"type": "ordinal", "domain": ["gld", "blu", "gry", "grn", "gr2", "blk"], "range": [3, 2, 2, 2, 2, 2]}}
          }
        },
        {
          "data": {"name": "plab"},
          "mark": {"type": "text", "align": "left", "baseline": "bottom", "dy": -2, "fontSize": 13, "clip": true},
          "encoding": {
            "x": {"field": "m", "type": "quantitative", "scale": {"domain": [390.4, 836.8], "nice": false, "zero": false}, "axis": null},
            "y": {"field": "p", "type": "quantitative", "scale": {"domain": [2670.63, 2723.25], "nice": false, "zero": false}, "title": null},
            "text": {"field": "t"},
            "color": {"field": "k", "type": "nominal", "legend": null,
              "scale": {"domain": ["c", "g", "k", "p"], "range": ["#22b2e6", "#6e6e6e", "#000000", "#8e3fc0"]}}
          }
        },
        {
          "data": {"name": "fib"},
          "mark": {"type": "text", "align": "left", "baseline": "bottom", "dy": 0, "fontSize": 13, "clip": true},
          "encoding": {
            "x": {"field": "m", "type": "quantitative", "scale": {"domain": [390.4, 836.8], "nice": false, "zero": false}, "axis": null},
            "y": {"field": "p", "type": "quantitative", "scale": {"domain": [2670.63, 2723.25], "nice": false, "zero": false}, "title": null},
            "text": {"field": "t"},
            "color": {"field": "k", "type": "nominal", "legend": null,
              "scale": {"domain": ["n", "l", "g", "s", "k"], "range": ["#1f1f9e", "#b5b5b5", "#505050", "#3c3c6e", "#111111"]}}
          }
        },
        {
          "data": {"name": "lab"},
          "mark": {"type": "text", "align": "center", "baseline": "middle", "fontSize": 15, "fontWeight": "bold"},
          "encoding": {
            "x": {"field": "m", "type": "quantitative", "scale": {"domain": [390.4, 836.8], "nice": false, "zero": false}, "axis": null},
            "y": {"field": "p", "type": "quantitative", "scale": {"domain": [2670.63, 2723.25], "nice": false, "zero": false}, "title": null},
            "text": {"field": "t"},
            "color": {"field": "g", "type": "nominal", "legend": null, "scale": {"domain": ["gy", "gn"], "range": ["#858585", "#2ecc2e"]}}
          }
        },
        {
          "data": {"name": "note"},
          "mark": {"type": "text", "align": "center", "baseline": "middle", "fontSize": 21.5, "color": "#000000"},
          "encoding": {
            "x": {"field": "m", "type": "quantitative", "scale": {"domain": [390.4, 836.8], "nice": false, "zero": false}, "axis": null},
            "y": {"field": "p", "type": "quantitative", "scale": {"domain": [2670.63, 2723.25], "nice": false, "zero": false}, "title": null},
            "text": {"field": "t"}
          }
        },
        {
          "data": {"name": "tags"},
          "mark": {"type": "point", "shape": "M-1,0L-0.8,-0.31L1,-0.31L1,0.31L-0.8,0.31Z", "size": 3364, "filled": true, "opacity": 1, "stroke": "#555555", "strokeWidth": 0.5},
          "encoding": {
            "x": {"datum": 849.2, "type": "quantitative", "scale": {"domain": [390.4, 836.8], "nice": false, "zero": false}, "axis": null},
            "y": {"field": "p", "type": "quantitative", "scale": {"domain": [2670.63, 2723.25], "nice": false, "zero": false}, "title": null},
            "fill": {"field": "k", "type": "nominal", "legend": null, "scale": {"domain": ["a", "b", "c"], "range": ["#000000", "#3d9bf0", "#27d127"]}}
          }
        },
        {
          "data": {"name": "tags"},
          "mark": {"type": "text", "align": "center", "baseline": "middle", "fontSize": 13.5},
          "encoding": {
            "x": {"datum": 850.0, "type": "quantitative", "scale": {"domain": [390.4, 836.8], "nice": false, "zero": false}, "axis": null},
            "y": {"field": "p", "type": "quantitative", "scale": {"domain": [2670.63, 2723.25], "nice": false, "zero": false}, "title": null},
            "text": {"field": "t"},
            "color": {"field": "k", "type": "nominal", "legend": null, "scale": {"domain": ["a", "b", "c"], "range": ["#ffffff", "#ffffff", "#000000"]}}
          }
        }
      ]
    },
    {
      "width": 1116,
      "height": 64,
      "layer": [
        {
          "data": {"name": "bars"},
          "mark": {"type": "bar", "size": 2, "color": "#1414c4"},
          "encoding": {
            "x": {"field": "m", "type": "quantitative", "scale": {"domain": [390.4, 836.8], "nice": false, "zero": false}, "axis": null},
            "y": {"field": "v", "type": "quantitative", "scale": {"domain": [-10400, 72800], "nice": false, "zero": false}, "title": null,
              "axis": {"orient": "right", "values": [0], "grid": false, "tickSize": 5, "tickColor": "#000000", "domain": false, "labelFontSize": 13, "labelColor": "#000000", "labelPadding": 2, "title": null}},
            "y2": {"datum": 0}
          }
        },
        {
          "data": {"name": "obase"},
          "mark": {"type": "rule", "color": "#9a9a9a", "strokeWidth": 1},
          "encoding": {
            "y": {"field": "q", "type": "quantitative", "scale": {"domain": [-10400, 72800], "nice": false, "zero": false}, "title": null}
          }
        },
        {
          "data": {"name": "vsma"},
          "mark": {"type": "line", "color": "#f2cf2c", "strokeWidth": 2},
          "encoding": {
            "x": {"field": "m", "type": "quantitative", "scale": {"domain": [390.4, 836.8], "nice": false, "zero": false}, "axis": null},
            "y": {"field": "v", "type": "quantitative", "scale": {"domain": [-10400, 72800], "nice": false, "zero": false}, "title": null}
          }
        },
        {
          "data": {"name": "bars"},
          "transform": [{"filter": "datum.v > 20000"}],
          "mark": {"type": "point", "filled": true, "color": "#1212b0", "size": 36, "opacity": 1, "yOffset": -5},
          "encoding": {
            "x": {"field": "m", "type": "quantitative", "scale": {"domain": [390.4, 836.8], "nice": false, "zero": false}, "axis": null},
            "y": {"field": "v", "type": "quantitative", "scale": {"domain": [-10400, 72800], "nice": false, "zero": false}, "title": null}
          }
        },
        {
          "data": {"name": "vlab"},
          "mark": {"type": "text", "align": "left", "baseline": "middle", "fontSize": 14, "dx": 0, "color": "#000000"},
          "encoding": {
            "x": {"field": "m", "type": "quantitative", "scale": {"domain": [390.4, 836.8], "nice": false, "zero": false}, "axis": null},
            "y": {"field": "v", "type": "quantitative", "scale": {"domain": [-10400, 72800], "nice": false, "zero": false}, "title": null},
            "text": {"field": "t"}
          }
        },
        {
          "data": {"name": "vtag"},
          "mark": {"type": "point", "shape": "M-1,0L-0.8,-0.31L1,-0.31L1,0.31L-0.8,0.31Z", "size": 3364, "filled": true, "opacity": 1, "color": "#f7d117", "stroke": "#555555", "strokeWidth": 0.5},
          "encoding": {
            "x": {"datum": 849.2, "type": "quantitative", "scale": {"domain": [390.4, 836.8], "nice": false, "zero": false}, "axis": null},
            "y": {"field": "v", "type": "quantitative", "scale": {"domain": [-10400, 72800], "nice": false, "zero": false}, "title": null}
          }
        },
        {
          "data": {"name": "vtag"},
          "mark": {"type": "text", "align": "center", "baseline": "middle", "fontSize": 13.5, "color": "#000000"},
          "encoding": {
            "x": {"datum": 850.0, "type": "quantitative", "scale": {"domain": [390.4, 836.8], "nice": false, "zero": false}, "axis": null},
            "y": {"field": "v", "type": "quantitative", "scale": {"domain": [-10400, 72800], "nice": false, "zero": false}, "title": null},
            "text": {"field": "t"}
          }
        }
      ]
    },
    {
      "width": 1116,
      "height": 68,
      "resolve": {"scale": {"color": "independent"}},
      "layer": [
        {
          "data": {"name": "stlev"},
          "mark": {"type": "rule", "strokeWidth": 1},
          "encoding": {
            "y": {"field": "lv", "type": "quantitative", "scale": {"domain": [-17.6, 115], "nice": false, "zero": false}, "title": null,
              "axis": {"orient": "right", "values": [0, 100], "grid": false, "tickSize": 5, "tickColor": "#000000", "domain": false, "labelFontSize": 13, "labelColor": "#000000", "labelPadding": 2, "title": null}},
            "color": {"field": "k", "type": "nominal", "legend": null, "scale": {"domain": ["mg", "gy", "dg", "lg", "lt"], "range": ["#cc2fcc", "#7a7a7a", "#1f7a1f", "#9fd13a", "#d0d0d0"]}}
          }
        },
        {
          "data": {"name": "stk"},
          "mark": {"type": "line", "color": "#222222", "strokeWidth": 1, "strokeDash": [1.5, 1.5]},
          "encoding": {
            "x": {"field": "m", "type": "quantitative", "scale": {"domain": [390.4, 836.8], "nice": false, "zero": false}, "axis": null},
            "y": {"field": "k", "type": "quantitative", "scale": {"domain": [-17.6, 115], "nice": false, "zero": false}, "title": null}
          }
        },
        {
          "data": {"name": "stoch"},
          "mark": {"type": "line", "strokeWidth": 3},
          "encoding": {
            "x": {"field": "m", "type": "quantitative", "scale": {"domain": [390.4, 836.8], "nice": false, "zero": false}, "axis": null},
            "y": {"field": "d", "type": "quantitative", "scale": {"domain": [-17.6, 115], "nice": false, "zero": false}, "title": null},
            "detail": {"field": "g", "type": "nominal"},
            "color": {"field": "t", "type": "nominal", "legend": null, "scale": {"domain": ["u", "d"], "range": ["#3ad13a", "#8c8c8c"]}}
          }
        },
        {
          "data": {"name": "stseg"},
          "mark": {"type": "rule", "color": "#1c1cd0", "strokeWidth": 2},
          "encoding": {
            "x": {"field": "m1", "type": "quantitative", "scale": {"domain": [390.4, 836.8], "nice": false, "zero": false}, "axis": null},
            "x2": {"field": "m2"},
            "y": {"field": "a", "type": "quantitative", "scale": {"domain": [-17.6, 115], "nice": false, "zero": false}, "title": null},
            "y2": {"field": "b"}
          }
        },
        {
          "data": {"name": "sttag"},
          "mark": {"type": "point", "shape": "M-1,0L-0.75,-0.41L1,-0.41L1,0.41L-0.75,0.41Z", "size": 1936, "filled": true, "opacity": 1, "color": "#000000"},
          "encoding": {
            "x": {"datum": 846.4, "type": "quantitative", "scale": {"domain": [390.4, 836.8], "nice": false, "zero": false}, "axis": null},
            "y": {"field": "lv", "type": "quantitative", "scale": {"domain": [-17.6, 115], "nice": false, "zero": false}, "title": null}
          }
        },
        {
          "data": {"name": "sttag"},
          "mark": {"type": "text", "align": "center", "baseline": "middle", "fontSize": 14, "color": "#ffffff"},
          "encoding": {
            "x": {"datum": 847.2, "type": "quantitative", "scale": {"domain": [390.4, 836.8], "nice": false, "zero": false}, "axis": null},
            "y": {"field": "lv", "type": "quantitative", "scale": {"domain": [-17.6, 115], "nice": false, "zero": false}, "title": null},
            "text": {"field": "t"}
          }
        }
      ]
    },
    {
      "width": 1116,
      "height": 56,
      "resolve": {"scale": {"color": "independent"}},
      "layer": [
        {
          "data": {"name": "bars"},
          "mark": {"type": "rule", "color": "#9a9a9a", "strokeWidth": 1},
          "encoding": {
            "x": {"field": "m", "type": "quantitative", "scale": {"domain": [390.4, 836.8], "nice": false, "zero": false}, "axis": null},
            "y": {"field": "q", "type": "quantitative", "scale": {"domain": [-32, 24], "nice": false, "zero": false}, "axis": null},
            "y2": {"datum": 0}
          }
        },
        {
          "data": {"name": "obase"},
          "mark": {"type": "rule", "color": "#000000", "strokeWidth": 1},
          "encoding": {
            "y": {"field": "q", "type": "quantitative", "scale": {"domain": [-32, 24], "nice": false, "zero": false}, "axis": null}
          }
        },
        {
          "data": {"name": "bars"},
          "mark": {"type": "line", "color": "#111111", "strokeWidth": 1},
          "encoding": {
            "x": {"field": "m", "type": "quantitative", "scale": {"domain": [390.4, 836.8], "nice": false, "zero": false}, "axis": null},
            "y": {"field": "q", "type": "quantitative", "scale": {"domain": [-32, 24], "nice": false, "zero": false}, "axis": null}
          }
        },
        {
          "data": {"name": "sig"},
          "mark": {"type": "line", "strokeWidth": 3},
          "encoding": {
            "x": {"field": "m", "type": "quantitative", "scale": {"domain": [390.4, 836.8], "nice": false, "zero": false}, "axis": null},
            "y": {"field": "s", "type": "quantitative", "scale": {"domain": [-32, 24], "nice": false, "zero": false}, "axis": null},
            "detail": {"field": "g", "type": "nominal"},
            "color": {"field": "t", "type": "nominal", "legend": null, "scale": {"domain": ["u", "d"], "range": ["#3ad13a", "#8c8c8c"]}}
          }
        },
        {
          "data": {"name": "olab"},
          "mark": {"type": "text", "align": "center", "baseline": "middle", "fontSize": 14, "fontWeight": "bold", "clip": true},
          "encoding": {
            "x": {"field": "m", "type": "quantitative", "scale": {"domain": [390.4, 836.8], "nice": false, "zero": false}, "axis": null},
            "y": {"field": "q", "type": "quantitative", "scale": {"domain": [-32, 24], "nice": false, "zero": false}, "axis": null},
            "text": {"field": "t"},
            "color": {"field": "c", "type": "nominal", "legend": null, "scale": {"domain": ["b", "g"], "range": ["#1a1acc", "#909090"]}}
          }
        },
        {
          "data": {"name": "otag"},
          "mark": {"type": "point", "shape": "M-1,0L-0.7,-0.46L1,-0.46L1,0.46L-0.7,0.46Z", "size": 1369, "filled": true, "opacity": 1, "color": "#8a8a8a", "stroke": "#333333", "strokeWidth": 0.5},
          "encoding": {
            "x": {"datum": 845.0, "type": "quantitative", "scale": {"domain": [390.4, 836.8], "nice": false, "zero": false}, "axis": null},
            "y": {"field": "q", "type": "quantitative", "scale": {"domain": [-32, 24], "nice": false, "zero": false}, "axis": null}
          }
        },
        {
          "data": {"name": "otag"},
          "mark": {"type": "text", "align": "center", "baseline": "middle", "fontSize": 14, "color": "#000000"},
          "encoding": {
            "x": {"datum": 845.6, "type": "quantitative", "scale": {"domain": [390.4, 836.8], "nice": false, "zero": false}, "axis": null},
            "y": {"field": "q", "type": "quantitative", "scale": {"domain": [-32, 24], "nice": false, "zero": false}, "axis": null},
            "text": {"field": "t"}
          }
        }
      ]
    },
    {
      "width": 1116,
      "height": 18,
      "layer": [
        {
          "data": {"name": "marks"},
          "mark": {"type": "tick", "color": "#f5a300", "thickness": 3, "size": 10, "orient": "vertical", "opacity": 1},
          "encoding": {
            "x": {"field": "m", "type": "quantitative", "scale": {"domain": [390.4, 836.8], "nice": false, "zero": false}, "title": null,
              "axis": {"orient": "bottom", "values": [420, 450, 480, 510, 540, 570, 600, 630, 660, 690, 720, 750, 780],
                "labelExpr": "(floor(datum.value/60) < 10 ? '0' : '') + floor(datum.value/60) + ':' + (datum.value % 60 < 10 ? '0' : '') + (datum.value % 60)",
                "grid": false, "tickSize": 5, "tickColor": "#000000", "domainColor": "#000000", "labelFontSize": 13, "labelColor": "#000000", "labelPadding": 3, "title": null}}
          }
        },
        {
          "data": {"name": "copy"},
          "mark": {"type": "text", "align": "left", "baseline": "middle", "fontSize": 12, "dx": -2, "color": "#000000"},
          "encoding": {
            "x": {"field": "m", "type": "quantitative", "scale": {"domain": [390.4, 836.8], "nice": false, "zero": false}, "title": null},
            "text": {"field": "t"}
          }
        },
        {
          "data": {"name": "mtag"},
          "mark": {"type": "point", "shape": "M-1,0L-0.45,-0.85L1,-0.85L1,0.85L-0.45,0.85Z", "size": 324, "filled": true, "opacity": 1, "color": "#f5a300", "stroke": "#555555", "strokeWidth": 0.5},
          "encoding": {
            "x": {"datum": 841.0, "type": "quantitative", "scale": {"domain": [390.4, 836.8], "nice": false, "zero": false}, "title": null}
          }
        },
        {
          "data": {"name": "mtag"},
          "mark": {"type": "text", "align": "center", "baseline": "middle", "fontSize": 13, "color": "#000000"},
          "encoding": {
            "x": {"datum": 841.6, "type": "quantitative", "scale": {"domain": [390.4, 836.8], "nice": false, "zero": false}, "title": null},
            "text": {"field": "t"}
          }
        }
      ]
    }
  ],
  "config": {
    "font": "Liberation Sans",
    "view": {"stroke": "#000000", "strokeWidth": 1},
    "concat": {"spacing": 0}
  }
}
